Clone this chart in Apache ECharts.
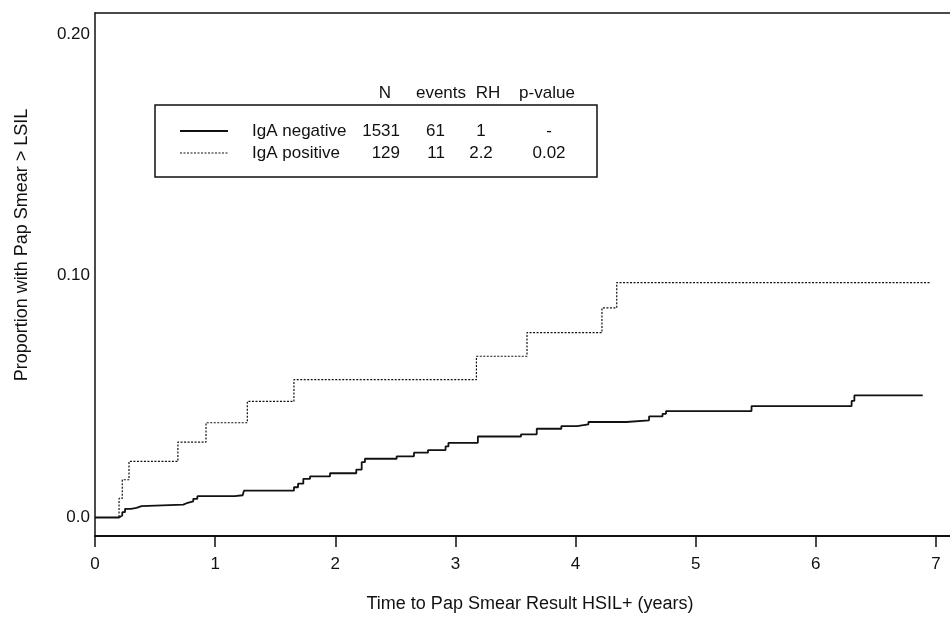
<!DOCTYPE html>
<html>
<head>
    <meta charset="utf-8">
    <title>ECharts</title>
    <script src="https://cdn.jsdelivr.net/npm/echarts@6/dist/echarts.min.js"></script>
</head>
<body style="margin:0;background-color:#fff">
<div id="main" style="width:950px;height:622px"></div>
<script type="text/javascript">
    // cumulative proportion, IgA negative (solid)
    var negTime = [0, 0.2, 0.227, 0.25, 0.3, 0.345, 0.387, 0.735, 0.763, 0.818, 0.852, 1.165, 1.229, 1.24,
        1.656, 1.69, 1.734, 1.79, 1.956, 2.175, 2.22, 2.247, 2.511, 2.655, 2.772, 2.918, 2.942, 3.187,
        3.546, 3.677, 3.882, 4.013, 4.107, 4.422, 4.612, 4.724, 4.753, 5.465, 6.298, 6.321, 6.89];
    var negValue = [0, 0.0008, 0.0022, 0.0036, 0.004, 0.0047, 0.0053, 0.0059, 0.0067, 0.0077, 0.0088, 0.0092, 0.0098, 0.0111,
        0.0125, 0.014, 0.016, 0.017, 0.0183, 0.0198, 0.0229, 0.0243, 0.0253, 0.0268, 0.0279, 0.0294, 0.0309, 0.0335,
        0.0344, 0.0367, 0.0378, 0.0385, 0.0395, 0.0402, 0.0418, 0.0429, 0.044, 0.0461, 0.0482, 0.0505, 0.0505];

    // cumulative proportion, IgA positive (dotted)
    var posTime = [0, 0.2, 0.227, 0.283, 0.69, 0.924, 1.268, 1.656, 3.175, 3.596, 4.22, 4.343, 6.95];
    var posValue = [0, 0.0079, 0.0156, 0.0232, 0.0312, 0.0392, 0.048, 0.057, 0.0667, 0.0765, 0.0867, 0.0972, 0.0972];

    var xTicks = [0, 1, 2, 3, 4, 5, 6, 7];
    var yTicks = [0, 0.1, 0.2];
    var yTickLabels = ['0.0', '0.10', '0.20'];

    // table inside the legend box
    var tableHeader = ['N', 'events', 'RH', 'p-value'];
    var groupNames = ['IgA negative', 'IgA positive'];
    var groupN = ['1531', '129'];
    var groupEvents = ['61', '11'];
    var groupRH = ['1', '2.2'];
    var groupP = ['-', '0.02'];

    var font = '"Liberation Sans", Arial, sans-serif';
    var ink = '#111';

    function pairs(xs, ys) {
        var out = [];
        for (var i = 0; i < xs.length; i++) {
            out.push([xs[i], ys[i]]);
        }
        return out;
    }

    function txt(text, x, y, align, size) {
        return {
            type: 'text', x: x, y: y, silent: true,
            style: {text: text, font: (size || 17) + 'px ' + font, fill: ink, align: align, verticalAlign: 'middle'}
        };
    }

    var headerX = [385, 441, 488, 547];
    var rowY = [131, 153];
    var graphics = [
        {
            type: 'rect', shape: {x: 155, y: 105, width: 442, height: 72},
            style: {fill: 'none', stroke: ink, lineWidth: 1.5}, silent: true
        },
        {
            type: 'line', shape: {x1: 180, y1: rowY[0], x2: 228, y2: rowY[0]},
            style: {stroke: ink, lineWidth: 1.8}
        },
        {
            type: 'line', shape: {x1: 180, y1: rowY[1], x2: 228, y2: rowY[1]},
            style: {stroke: ink, lineWidth: 1.2, lineDash: [2, 1.5]}
        },
        // axis titles
        txt('Time to Pap Smear Result HSIL+ (years)', 530, 604, 'center', 18),
        {
            type: 'text', x: 22, y: 245, rotation: Math.PI / 2, silent: true,
            style: {
                text: 'Proportion with Pap Smear > LSIL', font: '18px ' + font, fill: ink,
                align: 'center', verticalAlign: 'middle'
            }
        }
    ];
    for (var h = 0; h < tableHeader.length; h++) {
        graphics.push(txt(tableHeader[h], headerX[h], 93, 'center'));
    }
    for (var r = 0; r < groupNames.length; r++) {
        graphics.push(txt(groupNames[r], 252, rowY[r], 'left'));
        graphics.push(txt(groupN[r], 400, rowY[r], 'right'));
        graphics.push(txt(groupEvents[r], 445, rowY[r], 'right'));
        graphics.push(txt(groupRH[r], 481, rowY[r], 'center'));
        graphics.push(txt(groupP[r], 549, rowY[r], 'center'));
    }

    var myChart = echarts.init(document.getElementById('main'));
    var option = {
        animation: false,
        backgroundColor: '#fff',
        grid: {left: 95, top: 13, right: 0, bottom: 86},
        xAxis: [
            {
                type: 'value',
                min: 0,
                max: 7.117,
                splitLine: {show: false},
                axisLine: {onZero: false, lineStyle: {color: ink, width: 2}},
                axisTick: {show: true, customValues: xTicks, length: 11, lineStyle: {color: ink, width: 1.5}},
                axisLabel: {customValues: xTicks, margin: 20, color: ink, fontSize: 17, fontFamily: font}
            },
            {
                // top frame line
                type: 'value',
                position: 'top',
                min: 0,
                max: 7.117,
                splitLine: {show: false},
                axisLine: {show: true, onZero: false, lineStyle: {color: ink, width: 1.5}},
                axisTick: {show: false},
                axisLabel: {show: false}
            }
        ],
        yAxis: {
            type: 'value',
            min: -0.00766,
            max: 0.2087,
            splitLine: {show: false},
            axisLine: {show: true, onZero: false, lineStyle: {color: ink, width: 1.5}},
            axisTick: {show: false},
            axisLabel: {
                customValues: yTicks, margin: 5, color: ink, fontSize: 17, fontFamily: font,
                formatter: function (v) {
                    for (var i = 0; i < yTicks.length; i++) {
                        if (Math.abs(v - yTicks[i]) < 1e-9) return yTickLabels[i];
                    }
                    return '';
                }
            }
        },
        series: [
            {
                name: 'IgA negative',
                type: 'line',
                step: 'end',
                symbol: 'none',
                data: pairs(negTime, negValue),
                lineStyle: {color: ink, width: 1.8}
            },
            {
                name: 'IgA positive',
                type: 'line',
                step: 'end',
                symbol: 'none',
                data: pairs(posTime, posValue),
                lineStyle: {color: ink, width: 1.2, type: [2, 1.5]}
            }
        ],
        graphic: graphics
    };
    myChart.setOption(option);
</script>
</body>
</html>
